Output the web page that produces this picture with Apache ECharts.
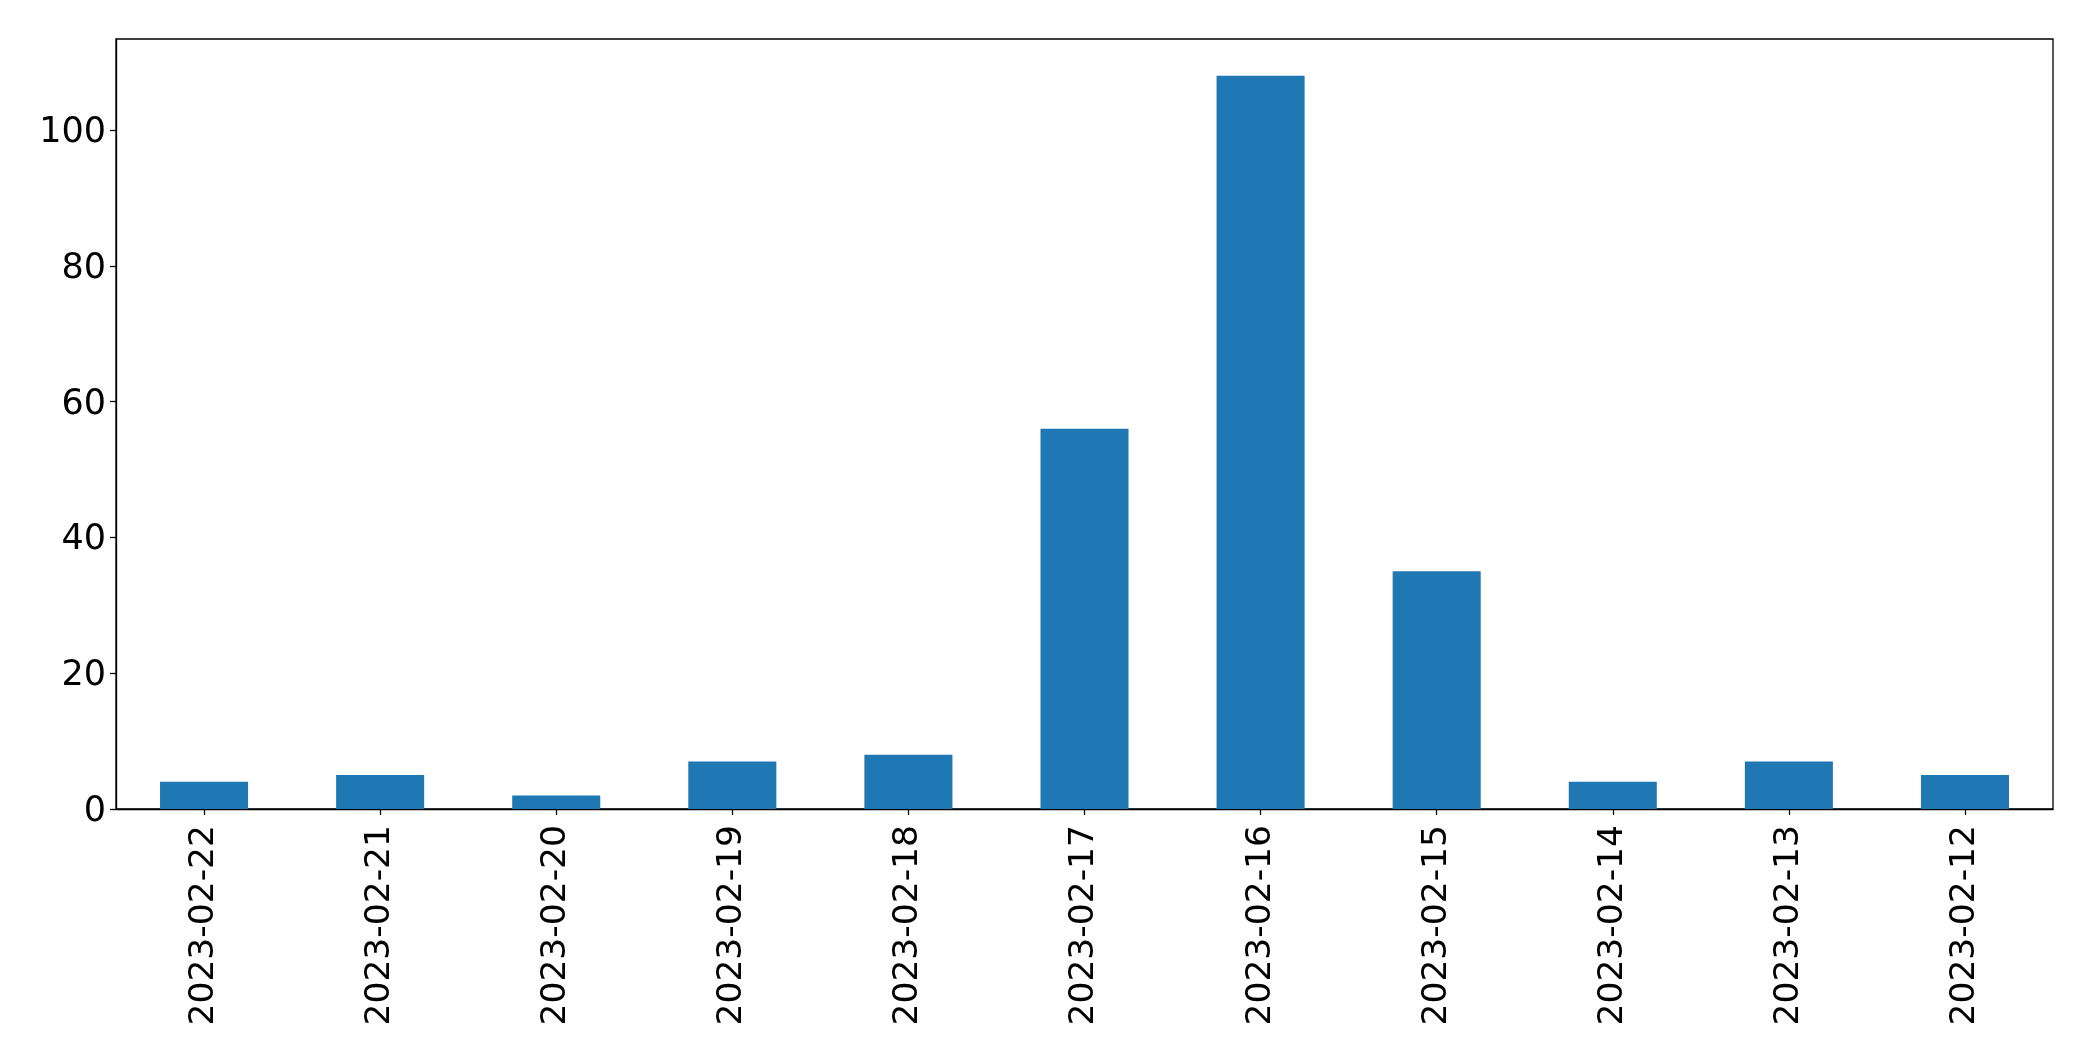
<!DOCTYPE html>
<html>
<head>
<meta charset="utf-8">
<script src="https://cdn.jsdelivr.net/npm/echarts@6/dist/echarts.min.js"></script>
<style>
html,body{margin:0;padding:0;background:#fff;}
#c{width:2093px;height:1061px;}
</style>
</head>
<body>
<div id="c"></div>
<script>
const categories = ["2023-02-22","2023-02-21","2023-02-20","2023-02-19","2023-02-18","2023-02-17","2023-02-16","2023-02-15","2023-02-14","2023-02-13","2023-02-12"];
const counts = [4, 5, 2, 7, 8, 56, 108, 35, 4, 7, 5];
const yTicks = [0, 20, 40, 60, 80, 100];

const chart = echarts.init(document.getElementById('c'), null, {renderer: 'canvas'});
const font = 'DejaVu Sans';
chart.setOption({
  animation: false,
  backgroundColor: '#fff',
  grid: {left: 116, right: 40, top: 39, bottom: 252, show: true, borderColor: '#000', borderWidth: 1.3, backgroundColor: 'transparent'},
  xAxis: {
    type: 'category',
    data: categories,
    boundaryGap: true,
    axisLine: {show: true, lineStyle: {color: '#000', width: 1.3}},
    axisTick: {show: true, alignWithLabel: true, length: 6, lineStyle: {color: '#000', width: 1.3}},
    axisLabel: {rotate: 90, margin: 16, color: '#000', fontFamily: font, fontSize: 34.5, interval: 0},
    splitLine: {show: false}
  },
  yAxis: {
    type: 'value',
    min: 0,
    max: 113.4,
    interval: 20,
    axisLine: {show: true, lineStyle: {color: '#000', width: 1.3}},
    axisTick: {show: true, length: 6, lineStyle: {color: '#000', width: 1.3}, customValues: yTicks},
    axisLabel: {
      margin: 10, color: '#000', fontFamily: font, fontSize: 35, customValues: yTicks,
      formatter: '{a|{value}}',
      rich: {a: {fontFamily: font, fontSize: 35, color: '#000', padding: [6, 0, 0, 0]}}
    },
    splitLine: {show: false}
  },
  series: [{
    type: 'bar',
    data: counts,
    barWidth: '50%',
    itemStyle: {color: '#1f77b4'}
  }]
});
</script>
</body>
</html>
